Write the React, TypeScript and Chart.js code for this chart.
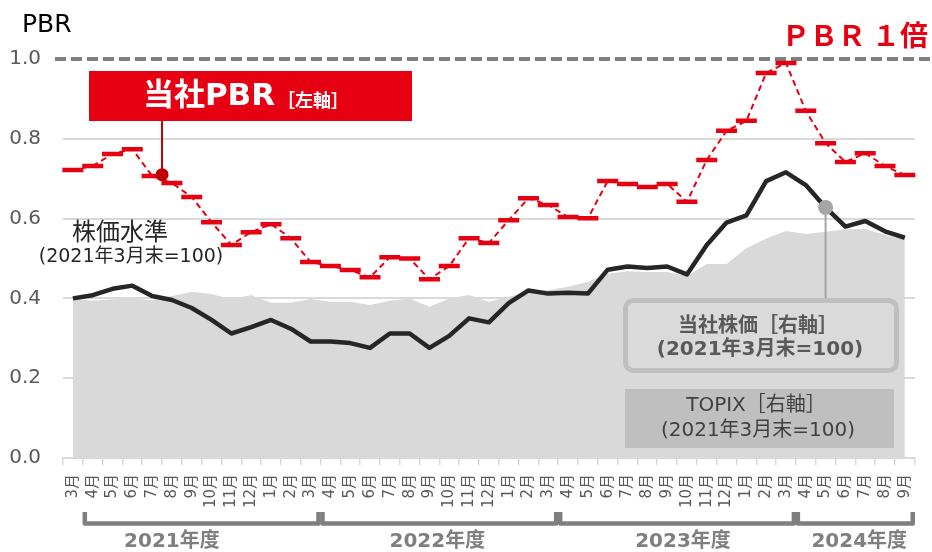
import React, { useEffect, useRef } from 'react';
import { Chart, registerables } from 'chart.js';

Chart.register(...registerables);

// ---------- data ----------
const months = [
  '3月',
  '4月', '5月', '6月', '7月', '8月', '9月', '10月', '11月', '12月', '1月', '2月', '3月',
  '4月', '5月', '6月', '7月', '8月', '9月', '10月', '11月', '12月', '1月', '2月', '3月',
  '4月', '5月', '6月', '7月', '8月', '9月', '10月', '11月', '12月', '1月', '2月', '3月',
  '4月', '5月', '6月', '7月', '8月', '9月',
];

// 当社PBR (left axis)
const pbr = [
  0.722,
  0.732, 0.762, 0.774, 0.707, 0.689, 0.654, 0.591, 0.534, 0.566, 0.586, 0.551, 0.491,
  0.481, 0.471, 0.453, 0.503, 0.500, 0.448, 0.481, 0.551, 0.539, 0.596, 0.651, 0.634,
  0.604, 0.601, 0.694, 0.687, 0.679, 0.687, 0.642, 0.747, 0.820, 0.845, 0.965, 0.990,
  0.870, 0.789, 0.742, 0.764, 0.732, 0.709,
];

// 当社株価 (right axis, 2021年3月末=100)
const stockIndex = [
  100,
  102, 106, 108, 101.5, 99, 94, 86.5, 78, 82, 86.5, 81, 73,
  73, 72, 69, 78, 78, 69, 76.5, 87.5, 85, 97, 105, 103,
  103.5, 103, 118, 120, 119, 120, 115, 133.5, 147.5, 152, 173.5, 179,
  171, 157, 145, 148.5, 142, 138,
];

// TOPIX (right axis, 2021年3月末=100)
const topixIndex = [
  100,
  98.6, 99.4, 100, 99, 101.5, 104.2, 102.8, 99.4, 102.1, 97.3, 97.3, 99.6,
  97.9, 97.9, 95.9, 98.6, 100, 94.8, 100, 102.1, 97.9, 101, 104.2, 105.3,
  107.3, 110.5, 115.5, 117, 116.5, 116.5, 114, 121.5, 121.5, 131.4, 137.6, 142.2,
  140.4, 141.8, 143.3, 143.5, 139.7, 136.6,
];

const pbrMin = 0;
const pbrMax = 1.0;
const pbrStep = 0.2;
const indexMax = 250;

const fiscalYears = ['2021年度', '2022年度', '2023年度', '2024年度'];
const fyFirstMonth = [1, 13, 25, 37];
const fyLastMonth = [12, 24, 36, 42];

// ---------- styles ----------
const LATIN = '"DejaVu Sans", "Noto Sans CJK JP", sans-serif';
const JP = '"Noto Sans CJK JP", "DejaVu Sans", sans-serif';
const RED = '#e60012';
const DARK_RED = '#c00000';
const GRID = '#d9d9d9';

const fyLabelAt = [5, 18.4, 30.8, 39.7];

const overlayPlugin = {
  id: 'overlay',
  beforeDatasetsDraw(chart: any) {
    const { ctx, chartArea, scales } = chart;
    const y1 = scales.y.getPixelForValue(1.0);
    ctx.save();
    ctx.strokeStyle = '#7f7f7f';
    ctx.lineWidth = 4;
    ctx.setLineDash([11, 5]);
    ctx.beginPath();
    ctx.moveTo(chartArea.left - 8, y1);
    ctx.lineTo(chart.width - 2, y1);
    ctx.stroke();
    ctx.restore();
  },
  afterDatasetsDraw(chart: any) {
    const { ctx, scales } = chart;
    const xs = scales.x;
    const ys = scales.y;
    const y2 = scales.y2;
    ctx.save();

    // PBR 1倍
    ctx.fillStyle = RED;
    ctx.font = `bold 28px ${JP}`;
    ctx.textAlign = 'right';
    ctx.textBaseline = 'alphabetic';
    ctx.fillText('ＰＢＲ １倍', chart.width - 4, 46);

    // PBR axis title
    ctx.fillStyle = '#000000';
    ctx.font = `25px ${LATIN}`;
    ctx.textAlign = 'left';
    ctx.fillText('PBR', 22, 32);

    // 当社PBR label box
    const cx = xs.getPixelForValue(4.5);
    const cy = ys.getPixelForValue(0.71);
    ctx.strokeStyle = DARK_RED;
    ctx.lineWidth = 2;
    ctx.beginPath();
    ctx.moveTo(cx, 121);
    ctx.lineTo(cx, cy);
    ctx.stroke();
    ctx.fillStyle = DARK_RED;
    ctx.beginPath();
    ctx.arc(cx, cy, 6.5, 0, Math.PI * 2);
    ctx.fill();

    ctx.fillStyle = RED;
    ctx.fillRect(89, 71, 323, 50);
    ctx.fillStyle = '#ffffff';
    ctx.textBaseline = 'middle';
    ctx.font = `bold 31px ${LATIN}`;
    const w1 = ctx.measureText('当社PBR').width;
    ctx.font = `bold 18px ${JP}`;
    const w2 = ctx.measureText('［左軸］').width;
    const startX = 246 - (w1 + 2 + w2) / 2;
    ctx.font = `bold 31px ${LATIN}`;
    ctx.fillText('当社PBR', startX, 97);
    ctx.font = `bold 18px ${JP}`;
    ctx.fillText('［左軸］', startX + w1 + 2, 100);

    // 株価水準
    ctx.fillStyle = '#262626';
    ctx.textAlign = 'center';
    ctx.font = `24px ${JP}`;
    ctx.fillText('株価水準', 120, 231);
    ctx.font = `19px ${LATIN}`;
    ctx.fillText('(2021年3月末=100)', 131, 257);

    // 当社株価 callout
    const sx = xs.getPixelForValue(38);
    const sy = y2.getPixelForValue(stockIndex[38]);
    ctx.strokeStyle = '#a6a6a6';
    ctx.lineWidth = 2;
    ctx.beginPath();
    ctx.moveTo(sx, sy);
    ctx.lineTo(sx, 300);
    ctx.stroke();
    ctx.fillStyle = '#a6a6a6';
    ctx.beginPath();
    ctx.arc(sx, sy, 7.5, 0, Math.PI * 2);
    ctx.fill();

    ctx.fillStyle = '#dadada';
    ctx.strokeStyle = '#bfbfbf';
    ctx.lineWidth = 5;
    ctx.beginPath();
    (ctx as any).roundRect(625.5, 300.5, 271, 70, 8);
    ctx.fill();
    ctx.stroke();
    ctx.fillStyle = '#595959';
    ctx.font = `bold 20px ${JP}`;
    ctx.fillText('当社株価［右軸］', 758, 324);
    ctx.font = `bold 20px ${LATIN}`;
    ctx.fillText('(2021年3月末=100)', 760, 350);

    // TOPIX box
    ctx.fillStyle = '#bfbfbf';
    ctx.fillRect(625, 389, 269, 59);
    ctx.fillStyle = '#404040';
    ctx.font = `20px ${LATIN}`;
    ctx.fillText('TOPIX［右軸］', 756, 406);
    ctx.fillText('(2021年3月末=100)', 758, 431);

    // fiscal-year brackets
    const half = (xs.getPixelForValue(1) - xs.getPixelForValue(0)) / 2;
    ctx.strokeStyle = '#7f7f7f';
    ctx.lineWidth = 4.5;
    ctx.lineJoin = 'round';
    ctx.lineCap = 'butt';
    ctx.fillStyle = '#7f7f7f';
    ctx.font = `bold 20px ${LATIN}`;
    for (let g = 0; g < fiscalYears.length; g++) {
      const a = xs.getPixelForValue(fyFirstMonth[g]) - half + 2;
      const b = xs.getPixelForValue(fyLastMonth[g]) + half - 2;
      ctx.beginPath();
      ctx.moveTo(a, 512);
      ctx.lineTo(a, 523.5);
      ctx.lineTo(b, 523.5);
      ctx.lineTo(b, 512);
      ctx.stroke();
      ctx.fillText(fiscalYears[g], xs.getPixelForValue(fyLabelAt[g]), 542);
    }
    ctx.restore();
  },
};

export default function App() {
  const ref = useRef<HTMLCanvasElement>(null);
  useEffect(() => {
    const chart = new Chart(ref.current as HTMLCanvasElement, {
      type: 'line',
      data: {
        labels: months,
        datasets: [
          {
            label: '当社PBR',
            data: pbr,
            yAxisID: 'y',
            borderColor: RED,
            borderWidth: 2,
            borderDash: [6, 4],
            pointStyle: 'line',
            pointRadius: 10.5,
            pointBorderWidth: 4.5,
            pointBorderColor: RED,
            pointBackgroundColor: RED,
            fill: false,
            tension: 0,
            order: 1,
          },
          {
            label: '当社株価',
            data: stockIndex,
            yAxisID: 'y2',
            borderColor: '#262626',
            borderWidth: 4.5,
            borderJoinStyle: 'round',
            pointRadius: 0,
            fill: false,
            tension: 0,
            order: 2,
          },
          {
            label: 'TOPIX',
            data: topixIndex,
            yAxisID: 'y2',
            borderWidth: 0,
            borderColor: 'rgba(0,0,0,0)',
            backgroundColor: '#d9d9d9',
            pointRadius: 0,
            fill: 'origin',
            tension: 0,
            order: 3,
          },
        ],
      },
      options: {
        responsive: false,
        animation: false,
        devicePixelRatio: 1,
        layout: { padding: { top: 59, right: 12, left: 0, bottom: 0 } },
        plugins: { legend: { display: false }, tooltip: { enabled: false } },
        scales: {
          x: {
            type: 'category',
            offset: true,
            grid: {
              display: true,
              offset: true,
              drawOnChartArea: false,
              drawTicks: true,
              tickLength: 7,
              color: GRID,
              lineWidth: 1.5,
            },
            border: { display: true, color: GRID, width: 2 },
            ticks: {
              autoSkip: false,
              minRotation: 90,
              maxRotation: 90,
              padding: 9,
              color: '#595959',
              font: { family: LATIN, size: 15 },
            },
            afterFit: (scale: any) => {
              scale.height = 94;
            },
          },
          y: {
            position: 'left',
            min: pbrMin,
            max: pbrMax,
            ticks: {
              stepSize: pbrStep,
              padding: 22,
              color: '#595959',
              font: { family: LATIN, size: 20 },
              callback: (v: any) => Number(v).toFixed(1),
            },
            grid: {
              drawTicks: false,
              color: (c: any) => (Math.abs(c.tick.value - 1) < 1e-6 ? 'rgba(0,0,0,0)' : GRID),
              lineWidth: 2,
            },
            border: { display: false },
            afterFit: (scale: any) => {
              scale.width = 63;
            },
          },
          y2: {
            position: 'right',
            display: false,
            min: 0,
            max: indexMax,
          },
        },
      },
      plugins: [overlayPlugin],
    } as any);
    return () => chart.destroy();
  }, []);
  return (
    <div style={{ position: 'fixed', left: 0, top: 0, width: 932, height: 552, background: '#ffffff' }}>
      <canvas ref={ref} width={932} height={552} style={{ display: 'block', width: 932, height: 552 }} />
    </div>
  );
}
